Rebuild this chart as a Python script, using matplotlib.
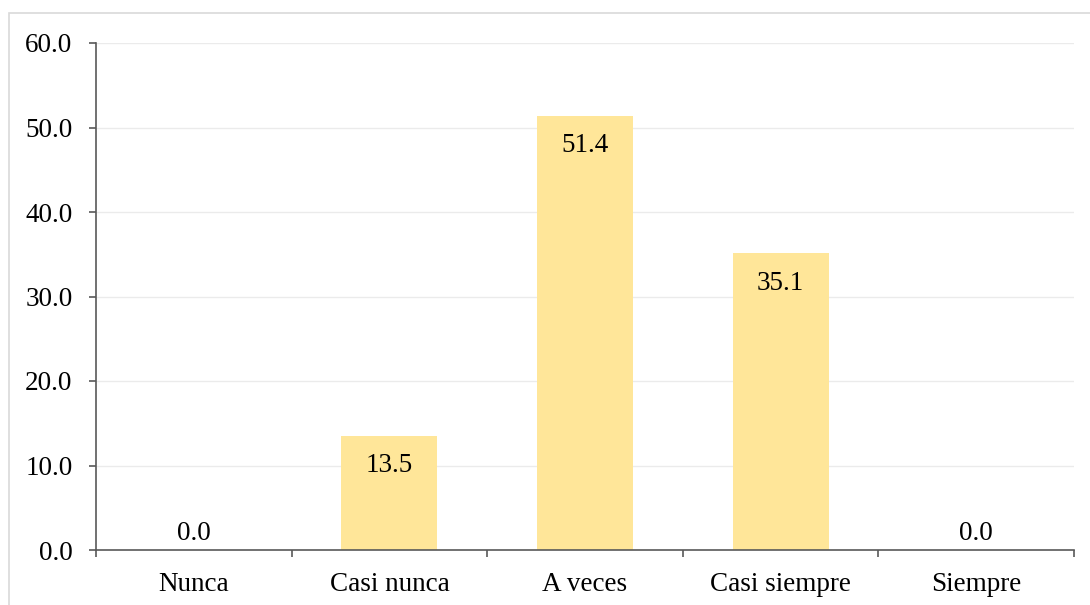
import matplotlib
matplotlib.use("Agg")
import matplotlib.pyplot as plt
from matplotlib.patches import Rectangle

categories = ["Nunca", "Casi nunca", "A veces", "Casi siempre", "Siempre"]
values = [0.0, 13.5, 51.4, 35.1, 0.0]
yticks = [0, 10, 20, 30, 40, 50, 60]

plt.rcParams['font.family'] = ['Liberation Serif', 'DejaVu Serif']
FS = 19.5

fig = plt.figure(figsize=(10.9, 6.05), dpi=100)
fig.patch.set_facecolor('white')
# light gray chart border
fig.add_artist(Rectangle((9/1090, -0.05), 1.2, (605-13)/605 + 0.05, transform=fig.transFigure,
                         fill=False, edgecolor='#D9D9D9', linewidth=1.2))

ax = fig.add_axes([96/1090, (605-550)/605, (1074-96)/1090, (550-43)/605])
x = list(range(len(categories)))
ax.bar(x, values, width=0.49, color='#FFE699', zorder=2)
ax.set_xlim(-0.5, len(categories) - 0.5)
ax.set_ylim(0, 60)
ax.set_yticks(yticks)
ax.set_yticklabels([f"{v:.1f}" for v in yticks], fontsize=FS)
ax.yaxis.grid(True, color='#EBEBEB', linewidth=1.0, zorder=0)
ax.set_axisbelow(True)

ax.set_xticks(x)
ax.set_xticklabels(categories, fontsize=FS)
ax.tick_params(axis='x', which='major', length=0, pad=16)
ax.set_xticks([i - 0.5 for i in range(len(categories) + 1)], minor=True)
ax.tick_params(axis='x', which='minor', length=5, color='#595959', width=1.2)
ax.tick_params(axis='y', length=5, color='#595959', width=1.2, pad=12)

for s in ['top', 'right']:
    ax.spines[s].set_visible(False)
for s in ['left', 'bottom']:
    ax.spines[s].set_color('#595959')
    ax.spines[s].set_linewidth(1.2)

for xi, v in zip(x, values):
    if v > 0:
        ax.annotate(f"{v:.1f}", (xi, v), xytext=(0, -12.5), textcoords='offset points',
                    ha='center', va='top', fontsize=FS)
    else:
        ax.annotate(f"{v:.1f}", (xi, v), xytext=(0, 3), textcoords='offset points',
                    ha='center', va='bottom', fontsize=FS)

fig.savefig("out.png", dpi=100)
